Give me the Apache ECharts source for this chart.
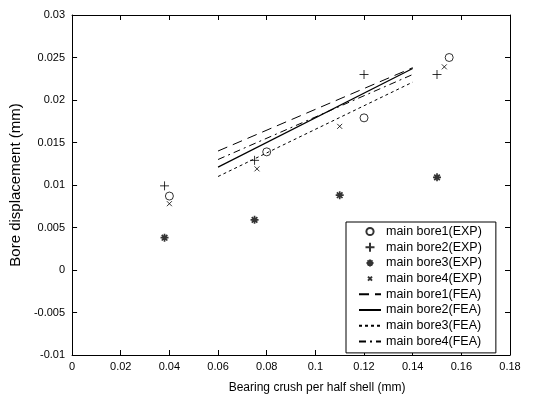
<!DOCTYPE html>
<html><head><meta charset="utf-8">
<script src="https://cdn.jsdelivr.net/npm/echarts@6/dist/echarts.min.js"></script>
<style>html,body{margin:0;padding:0;background:#fff}#c{width:533px;height:401px}</style>
</head><body><div id="c"></div>
<script>
// Experimental points [crush, displacement]
const bore1Exp = [[0.040, 0.0087], [0.080, 0.0139], [0.120, 0.0179], [0.155, 0.0250]];
const bore2Exp = [[0.038, 0.0099], [0.075, 0.0129], [0.120, 0.0230], [0.150, 0.0230]];
const bore3Exp = [[0.038, 0.0038], [0.075, 0.0059], [0.110, 0.0088], [0.150, 0.0109]];
const bore4Exp = [[0.040, 0.0078], [0.076, 0.0119], [0.110, 0.0169], [0.153, 0.0239]];
// FEA lines
const bore1Fea = [[0.06, 0.0140], [0.14, 0.0238]];
const bore2Fea = [[0.06, 0.0121], [0.14, 0.0237]];
const bore3Fea = [[0.06, 0.0110], [0.14, 0.0221]];
const bore4Fea = [[0.06, 0.0130], [0.14, 0.0230]];
const names = ['main bore1(EXP)','main bore2(EXP)','main bore3(EXP)','main bore4(EXP)',
               'main bore1(FEA)','main bore2(FEA)','main bore3(FEA)','main bore4(FEA)'];

const plusPath = 'path://M5,0L5,10M0,5L10,5';
const xPath = 'path://M0,0L10,10M10,0L0,10';
const starPath = 'path://M5,0L5,10M0,5L10,5M1.5,1.5L8.5,8.5M8.5,1.5L1.5,8.5';
// legend icons: same shapes inside a 10x10 frame (frame defined by move-to points only)
const frame = 'M0,0M10,10';
const circleIcon = 'path://' + frame + 'M8.6,5A3.6,3.6,0,1,1,1.4,5A3.6,3.6,0,1,1,8.6,5Z';
const plusIcon = 'path://' + frame + 'M5,0.5L5,9.5M0.5,5L9.5,5';
const starIcon = 'path://' + frame + 'M5,1.5L5,8.5M1.5,5L8.5,5M2.5,2.5L7.5,7.5M7.5,2.5L2.5,7.5';
const xIcon = 'path://' + frame + 'M3,3L7,7M7,3L3,7';

const fmt = v => String(+v.toFixed(3));
const font = 'Liberation Sans, Arial, sans-serif';

const chart = echarts.init(document.getElementById('c'), null, {renderer: 'canvas'});
function axisCommon(extra) {
  return Object.assign({
    axisLine: {show: true, onZero: false, lineStyle: {color: '#000', width: 1}},
    axisTick: {show: true, inside: true, length: 5, lineStyle: {color: '#000'}},
    splitLine: {show: false},
    axisLabel: {color: '#000', fontFamily: font, fontSize: 11, formatter: fmt}
  }, extra);
}
const hideSym = {opacity: 0};
chart.setOption({
  animation: false,
  backgroundColor: '#fff',
  grid: {left: 72, right: 23, top: 15, bottom: 46, containLabel: false},
  xAxis: [
    axisCommon({type: 'value', min: 0, max: 0.18, interval: 0.02, position: 'bottom',
      name: 'Bearing crush per half shell (mm)', nameLocation: 'middle', nameGap: 27,
      nameTextStyle: {color: '#000', fontFamily: font, fontSize: 12, padding: [0, 0, 0, 52]},
      axisLabel: {color: '#000', fontFamily: font, fontSize: 11, formatter: fmt, margin: 6}}),
    axisCommon({type: 'value', min: 0, max: 0.18, interval: 0.02, position: 'top',
      axisLabel: {show: false}})
  ],
  yAxis: [
    axisCommon({type: 'value', min: -0.01, max: 0.03, interval: 0.005, position: 'left',
      name: 'Bore displacement (mm)', nameLocation: 'middle', nameGap: 45,
      nameTextStyle: {color: '#000', fontFamily: font, fontSize: 15},
      axisLabel: {color: '#000', fontFamily: font, fontSize: 11, formatter: fmt, margin: 7}}),
    axisCommon({type: 'value', min: -0.01, max: 0.03, interval: 0.005, position: 'right',
      axisLabel: {show: false}})
  ],
  legend: {
    orient: 'vertical', left: 346, top: 222,
    backgroundColor: '#fff', borderColor: '#000', borderWidth: 1,
    padding: [3, 14, 5, 12], itemGap: 2.7, itemWidth: 22, itemHeight: 10,
    textStyle: {color: '#000', fontFamily: font, fontSize: 12.5},
    data: [
      {name: names[0], icon: circleIcon},
      {name: names[1], icon: plusIcon},
      {name: names[2], icon: starIcon},
      {name: names[3], icon: xIcon},
      {name: names[4], itemStyle: hideSym},
      {name: names[5], itemStyle: hideSym},
      {name: names[6], itemStyle: hideSym},
      {name: names[7], itemStyle: hideSym}
    ]
  },
  series: [
    {name: names[0], type: 'scatter', data: bore1Exp, symbol: 'circle', symbolSize: 8,
      itemStyle: {color: 'rgba(0,0,0,0)', borderColor: '#000', borderWidth: 1}},
    {name: names[1], type: 'scatter', data: bore2Exp, symbol: plusPath, symbolSize: 9,
      itemStyle: {color: '#000', borderColor: '#000', borderWidth: 1}},
    {name: names[2], type: 'scatter', data: bore3Exp, symbol: starPath, symbolSize: 8,
      itemStyle: {color: '#000', borderColor: '#000', borderWidth: 1.7}},
    {name: names[3], type: 'scatter', data: bore4Exp, symbol: xPath, symbolSize: 5,
      itemStyle: {color: '#000', borderColor: '#000', borderWidth: 1}},
    {name: names[4], type: 'line', data: bore1Fea, symbol: 'none',
      lineStyle: {color: '#000', width: 1, type: [10, 6]}, itemStyle: {color: '#000'}},
    {name: names[5], type: 'line', data: bore2Fea, symbol: 'none',
      lineStyle: {color: '#000', width: 1.2, type: 'solid'}, itemStyle: {color: '#000'}},
    {name: names[6], type: 'line', data: bore3Fea, symbol: 'none',
      lineStyle: {color: '#000', width: 1, type: [3, 3]}, itemStyle: {color: '#000'}},
    {name: names[7], type: 'line', data: bore4Fea, symbol: 'none',
      lineStyle: {color: '#000', width: 1, type: [7, 4, 2, 4]}, itemStyle: {color: '#000'}}
  ]
});
</script></body></html>
